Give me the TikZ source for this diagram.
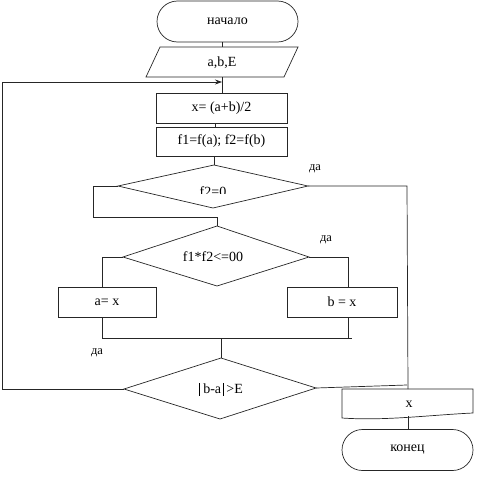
\documentclass[tikz,border=0pt]{standalone}
\usepackage{fontspec}
\setmainfont{Liberation Serif}
\usetikzlibrary{arrows.meta,shapes.misc}
\newcommand{\tallbar}{\rule[-2.5pt]{0.6pt}{13pt}}
\begin{document}
\begin{tikzpicture}[x=1pt,y=-1pt,line width=0.7pt,
  every node/.style={font=\fontsize{14}{16}\selectfont,inner sep=0pt},
  ln/.style={draw=black!85},
  term/.style={draw=black!85,rounded rectangle,minimum width=141pt,minimum height=41pt},
  procbox/.style={draw=black!85,rectangle,minimum height=30pt},
  lbl/.style={font=\fontsize{12.5}{14}\selectfont}]
\useasboundingbox (0,0) rectangle (489,479);

% start
\node[term] (start) at (227.5,21.5) {начало};
% input parallelogram
\coordinate (pa) at (160,47); \coordinate (pb) at (298,47);
\coordinate (pc) at (284,77); \coordinate (pd) at (146,77);
\draw[ln] (pa)--(pb)--(pc)--(pd)--cycle;
\node (inp) at (222,63) {a,b,E};
% processes
\node[procbox,minimum width=131pt] (b1) at (221.5,108) {x= (a+b)/2};
\node[procbox,minimum width=131pt,minimum height=29pt] (b2) at (221.5,141.5) {f1=f(a); f2=f(b)};
% diamond 1
\coordinate (d1t) at (214,165); \coordinate (d1r) at (308,186);
\coordinate (d1b) at (213,208); \coordinate (d1l) at (118,186);
\draw[ln] (d1t)--(d1r)--(d1b)--(d1l)--cycle;
\begin{scope}
\clip (170,170) rectangle (260,193);
\node[anchor=base] (d1txt) at (213,196.5) {f2=0};
\end{scope}
% diamond 2
\coordinate (d2t) at (217,226); \coordinate (d2r) at (309,257);
\coordinate (d2b) at (217,286); \coordinate (d2l) at (123,257);
\draw[ln] (d2t)--(d2r)--(d2b)--(d2l)--cycle;
\node (d2txt) at (213,257) {f1*f2<=00};
% branch boxes
\node[procbox,minimum width=98pt] (ba) at (107,302) {a= x};
\node[procbox,minimum width=110pt] (bb) at (342,302) {b = x};
% diamond 3
\coordinate (d3t) at (221,358); \coordinate (d3r) at (316,388);
\coordinate (d3b) at (220,419); \coordinate (d3l) at (124,389);
\draw[ln] (d3t)--(d3r)--(d3b)--(d3l)--cycle;
\node (d3txt) at (221,389) {\tallbar\ b-a\,\tallbar\,>E};
% output (document shape)
\coordinate (ot) at (408,389);
\draw[ln] (342,389)--(473,389)--(473,413) .. controls (430,415) and (385,421) .. (342,418)--cycle;
\node (outtxt) at (409,404) {x};
\coordinate (ob) at (408,416);
% end
\node[term,minimum width=131pt] (end) at (407.5,450) {конец};

% connectors
\draw[ln] (start.south -| inp) -- (inp |- pa);
\draw[ln] (inp |- pc) -- (inp |- b1.north);
\draw[ln] (b1.south -| 215,0) -- (b2.north -| 215,0);
\draw[ln] (b2.south -| d1t) -- (d1t);
\draw[ln] (d1r) -- (407,186) -- (ot);
\draw[ln] (d1l) -- (93,186) -- (93,217) -- (217,217) -- (d2t);
\draw[ln] (d2l) -- (102,257) -- (102,287);
\draw[ln] (d2r) -- (348,257) -- (348,287);
\draw[ln] (102,317) -- (102,338) -- (352,338);
\draw[ln] (348,317) -- (348,338);
\draw[ln] (221,338) -- (d3t);
\draw[ln,-{Stealth[length=7pt,width=5pt]}] (d3l) -- (2,389) -- (2,82) -- (222,82);
\draw[ln] (d3r) -- (407,385);
\draw[ln] (ob) -- (end.north -| ob);

% labels
\node[lbl] (yes1) at (315,169) {да};
\node[lbl] (yes2) at (326,240) {да};
\node[lbl] (yes3) at (97,353) {да};
\end{tikzpicture}
\end{document}
